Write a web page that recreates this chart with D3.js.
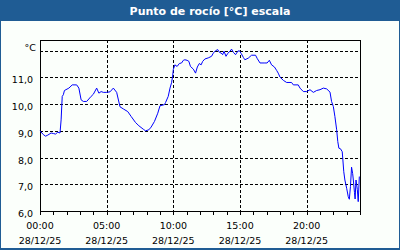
<!DOCTYPE html>
<html>
<head>
<meta charset="utf-8">
<script src="https://cdn.jsdelivr.net/npm/d3@7"></script>
<style>
  html, body { margin: 0; padding: 0; background: #fff; }
  svg { display: block; }
  .lbl { font-family: "DejaVu Sans", Verdana, sans-serif; font-size: 9.5px; fill: #000; }
</style>
</head>
<body>
<div id="chart"></div>
<script>
const title = 'Punto de rocío [°C] escala';

// dew point readings, 28/12/25
const times = [
  '00:00','00:15','00:25','00:35','00:50','01:00','01:10','01:20','01:30','01:35',
  '01:40','01:45','01:50','02:10','02:25','02:45','02:55','03:05','03:15','03:30',
  '03:50','04:00','04:15','04:25','04:35','04:45','05:00','05:15','05:30','05:45',
  '06:00','06:15','06:35','06:50','07:10','07:25','07:45','07:55','08:10','08:20',
  '08:35','08:50','09:00','09:20','09:25','09:37','09:45','09:52','09:57','10:00',
  '10:07','10:17','10:27','10:37','10:45','10:52','11:02','11:10','11:17','11:30',
  '11:40','11:48','11:57','12:05','12:12','12:22','12:37','12:52','13:00','13:10',
  '13:20','13:27','13:35','13:42','13:48','13:57','14:05','14:15','14:22','14:30',
  '14:40','14:50','14:57','15:05','15:15','15:22','15:37','15:52','16:10','16:18',
  '16:30','16:52','17:02','17:12','17:22','17:35','17:45','17:52','18:00','18:15',
  '18:30','18:52','19:00','19:22','19:30','19:45','20:00','20:15','20:30','20:45',
  '21:00','21:15','21:30','21:45','21:52','22:00','22:07','22:15','22:20','22:25',
  '22:32','22:40','22:43','22:47','22:52','23:00','23:07','23:12','23:17','23:22',
  '23:27','23:30','23:35','23:38','23:42','23:48','23:52','23:57'
];
const dewPoint = [
  9.00, 8.86, 8.80, 8.84, 8.92, 8.90, 8.88, 8.95, 8.92, 9.41,
  10.29, 10.35, 10.51, 10.60, 10.72, 10.72, 10.60, 10.16, 10.10, 10.10,
  10.29, 10.37, 10.60, 10.41, 10.47, 10.44, 10.44, 10.46, 10.60, 10.44,
  9.90, 9.82, 9.72, 9.54, 9.31, 9.19, 9.06, 9.00, 9.04, 9.14,
  9.35, 9.66, 9.94, 9.98, 10.06, 10.29, 10.60, 10.80, 11.05, 11.30,
  11.47, 11.41, 11.52, 11.54, 11.64, 11.66, 11.64, 11.60, 11.41, 11.31,
  11.16, 11.39, 11.52, 11.47, 11.60, 11.69, 11.73, 11.79, 11.91, 12.00,
  12.04, 11.94, 11.91, 11.85, 11.98, 11.79, 11.90, 11.98, 12.06, 11.94,
  11.85, 11.98, 12.00, 11.90, 11.75, 11.66, 11.72, 11.83, 11.83, 11.70,
  11.54, 11.54, 11.54, 11.64, 11.47, 11.39, 11.26, 11.16, 11.01, 10.89,
  10.81, 10.81, 10.72, 10.72, 10.60, 10.47, 10.47, 10.54, 10.44, 10.51,
  10.54, 10.60, 10.57, 10.45, 10.10, 9.91, 9.54, 9.04, 8.60, 8.35,
  8.33, 8.22, 7.91, 7.47, 7.16, 6.85, 6.54, 6.44, 6.91, 7.64,
  7.40, 7.16, 6.70, 6.45, 7.16, 6.80, 6.35, 7.29
];
const yTicks = [6, 7, 8, 9, 10, 11];
const yUnitAt = 12;
const gridY = [7, 8, 9, 10, 11, 12];
const dayLabel = '28/12/25';

const width = 400, height = 250;
const plot = {left: 40, right: 360, top: 40, bottom: 211};

const parseTime = d3.timeParse('%Y-%m-%d %H:%M');
const day0 = parseTime('2025-12-28 00:00');
const day1 = parseTime('2025-12-29 00:00');
const points = times.map((t, i) => ({t: parseTime('2025-12-28 ' + t), v: dewPoint[i]}));

const x = d3.scaleTime().domain([day0, day1]).range([plot.left, plot.right]);
const y = d3.scaleLinear().domain([6, 12.4]).range([plot.bottom, plot.top]);

const svg = d3.select('#chart').append('svg')
  .attr('width', width)
  .attr('height', height);

// frame + title bar
svg.append('rect').attr('width', width).attr('height', height).attr('fill', '#1f5c94');
svg.append('rect')
  .attr('x', 1).attr('y', 21)
  .attr('width', width - 2).attr('height', height - 23)
  .attr('fill', '#fbfffb');
svg.append('text')
  .attr('x', 210).attr('y', 15)
  .attr('text-anchor', 'middle')
  .style('font-family', '"DejaVu Sans", Verdana, sans-serif')
  .style('font-size', '11px')
  .style('font-weight', 'bold')
  .style('fill', '#fff')
  .text(title);

// grid
const gridGroup = svg.append('g')
  .attr('stroke', '#000')
  .attr('stroke-width', 1)
  .attr('stroke-dasharray', '3,2')
  .attr('shape-rendering', 'crispEdges');

gridGroup.selectAll('.hgrid')
  .data(gridY)
  .enter().append('line')
  .attr('class', 'hgrid')
  .attr('x1', plot.left).attr('x2', plot.right)
  .attr('y1', d => Math.round(y(d)) + 0.5)
  .attr('y2', d => Math.round(y(d)) + 0.5);

const majorTicks = d3.timeHour.every(5).range(day0, day1);
gridGroup.selectAll('.vgrid')
  .data(majorTicks.filter(d => +d !== +day0))
  .enter().append('line')
  .attr('class', 'vgrid')
  .attr('y1', plot.top).attr('y2', plot.bottom)
  .attr('x1', d => Math.round(x(d)) + 0.5)
  .attr('x2', d => Math.round(x(d)) + 0.5);

// x axis: hourly ticks, labels every 5h
const xAxis = d3.axisBottom(x)
  .ticks(d3.timeHour.every(1))
  .tickSize(4)
  .tickFormat('');
svg.append('g')
  .attr('transform', `translate(0,${plot.bottom})`)
  .call(xAxis)
  .call(g => g.select('.domain').remove())
  .call(g => g.selectAll('line').attr('stroke', '#000').attr('shape-rendering', 'crispEdges'));

const xLabels = svg.append('g');
xLabels.selectAll('.tlbl')
  .data(majorTicks)
  .enter().append('text')
  .attr('class', 'lbl')
  .attr('text-anchor', 'middle')
  .attr('x', d => x(d))
  .attr('y', 229)
  .text(d => d3.timeFormat('%H:%M')(d));
xLabels.selectAll('.dlbl')
  .data(majorTicks)
  .enter().append('text')
  .attr('class', 'lbl')
  .attr('text-anchor', 'middle')
  .attr('x', d => x(d))
  .attr('y', 244)
  .text(dayLabel);

// y labels
svg.append('g').selectAll('text')
  .data(yTicks)
  .enter().append('text')
  .attr('class', 'lbl')
  .attr('text-anchor', 'end')
  .attr('x', 33)
  .attr('y', d => y(d) + 6)
  .text(d => d3.format('.1f')(d).replace('.', ','));
svg.append('text')
  .attr('class', 'lbl')
  .attr('text-anchor', 'end')
  .attr('x', 36)
  .attr('y', y(yUnitAt))
  .text('°C');

// plot border
svg.append('rect')
  .attr('x', plot.left + 0.5).attr('y', plot.top + 0.5)
  .attr('width', plot.right - plot.left).attr('height', plot.bottom - plot.top)
  .attr('fill', 'none')
  .attr('stroke', '#000')
  .attr('shape-rendering', 'crispEdges');

// series
const line = d3.line()
  .x(d => x(d.t))
  .y(d => y(d.v));
svg.append('path')
  .datum(points)
  .attr('d', line)
  .attr('fill', 'none')
  .attr('stroke', '#0000ff')
  .attr('stroke-width', 1);
</script>
</body>
</html>
